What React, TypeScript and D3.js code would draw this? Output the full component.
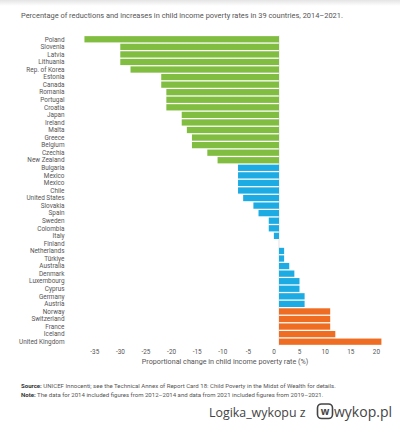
import React from "react";
import * as d3 from "d3";

const countries = [
  "Poland", "Slovenia", "Latvia", "Lithuania", "Rep. of Korea", "Estonia", "Canada",
  "Romania", "Portugal", "Croatia", "Japan", "Ireland", "Malta", "Greece", "Belgium",
  "Czechia", "New Zealand", "Bulgaria", "Mexico", "Mexico", "Chile", "United States",
  "Slovakia", "Spain", "Sweden", "Colombia", "Italy", "Finland", "Netherlands", "Türkiye",
  "Australia", "Denmark", "Luxembourg", "Cyprus", "Germany", "Austria", "Norway",
  "Switzerland", "France", "Iceland", "United Kingdom",
];

const changes = [
  -38, -31, -31, -31, -29, -23, -23,
  -22, -22, -22, -19, -19, -18, -17, -17,
  -14, -12, -8, -8, -8, -8, -7,
  -5, -4, -2, -2, -1, 0, 1, 1,
  2, 3, 4, 4, 5, 5, 10,
  10, 10, 11, 20,
];

const tickValues = [-35, -30, -25, -20, -15, -10, -5, 0, 5, 10, 15, 20];

const title =
  "Percentage of reductions and increases in child income poverty rates in 39 countries, 2014–2021.";
const axisTitle = "Proportional change in child income poverty rate (%)";
const sourceText =
  "UNICEF Innocenti; see the Technical Annex of Report Card 18: Child Poverty in the Midst of Wealth for details.";
const noteText =
  "The data for 2014 included figures from 2012–2014 and data from 2021 included figures from 2019–2021.";

const GREEN = "#80bd41";
const BLUE = "#1cabe2";
const ORANGE = "#ee6d22";

function colorFor(v: number) {
  if (v <= -10) return GREEN;
  if (v >= 10) return ORANGE;
  return BLUE;
}

export default function App() {
  const W = 400;
  const H = 430;
  const font = "Roboto, 'Noto Sans', sans-serif";

  const x = d3.scaleLinear().domain([-40, 25]).range([74.2, 407]);
  const idx = countries.map((_, i) => String(i));
  const y = d3
    .scaleBand<string>()
    .domain(idx)
    .range([35.5, 35.5 + countries.length * 7.56])
    .paddingInner(0.17)
    .paddingOuter(0.085);

  const x0 = x(0);
  const yTop = y.range()[0];
  const yBot = y.range()[1];
  const wmFont = "'Open Sans', 'Noto Sans', sans-serif";

  return (
    <svg
      width={W}
      height={H}
      viewBox={`0 0 ${W} ${H}`}
      style={{ position: "absolute", left: 0, top: 0, display: "block", background: "#fff" }}
      fontFamily={font}
    >
      <defs>
        <linearGradient id="topShade" x1="0" y1="0" x2="0" y2="1">
          <stop offset="0" stopColor="#e4e4e4" />
          <stop offset="1" stopColor="#ffffff" />
        </linearGradient>
      </defs>
      <rect x={0} y={0} width={W} height={H} fill="#fff" />
      <rect x={0} y={0} width={W} height={6} fill="url(#topShade)" />

      <text x={21} y={17.5} fontSize={7.45} fill="#555">
        {title}
      </text>

      {/* zero line */}
      <line x1={x0} x2={x0} y1={yTop} y2={yBot} stroke="#dcdcdc" strokeWidth={0.8} />

      {changes.map((v, i) => {
        const yy = y(String(i)) as number;
        const xa = x(Math.min(0, v));
        const xb = x(Math.max(0, v));
        return (
          <rect
            key={i}
            x={xa}
            y={yy}
            width={Math.max(0, xb - xa)}
            height={y.bandwidth()}
            fill={colorFor(v)}
          />
        );
      })}

      {countries.map((c, i) => (
        <text
          key={"l" + i}
          x={64.5}
          y={(y(String(i)) as number) + y.bandwidth() / 2}
          dy="0.35em"
          textAnchor="end"
          fontSize={6.4}
          fill="#555"
        >
          {c}
        </text>
      ))}

      {tickValues.map((t) => (
        <text
          key={"t" + t}
          x={x(t)}
          dx={-5}
          y={353.5}
          textAnchor="middle"
          fontSize={6.4}
          fill="#555"
        >
          {t}
        </text>
      ))}

      <text x={225} y={363.5} textAnchor="middle" fontSize={7.2} fill="#555">
        {axisTitle}
      </text>

      <text x={21} y={388} fontSize={6.05} fill="#555">
        <tspan fontWeight="bold" fill="#333">Source:</tspan> {sourceText}
      </text>
      <text x={21} y={397} fontSize={6.05} fill="#555">
        <tspan fontWeight="bold" fill="#333">Note:</tspan> {noteText}
      </text>

      {/* watermark */}
      <text x={209} y={416.5} fontSize={12.4} fill="#444" fontFamily={wmFont}>
        Logika_wykopu z
      </text>
      <rect x={317.5} y={404} width={15} height={14.5} rx={4} fill="none" stroke="#444" strokeWidth={1.6} />
      <text x={325} y={414.5} textAnchor="middle" fontSize={10} fontWeight="bold" fill="#444" fontFamily={wmFont}>
        w
      </text>
      <text x={334} y={416.5} fontSize={14} fill="#444" fontFamily={wmFont}>
        wykop.pl
      </text>
    </svg>
  );
}
